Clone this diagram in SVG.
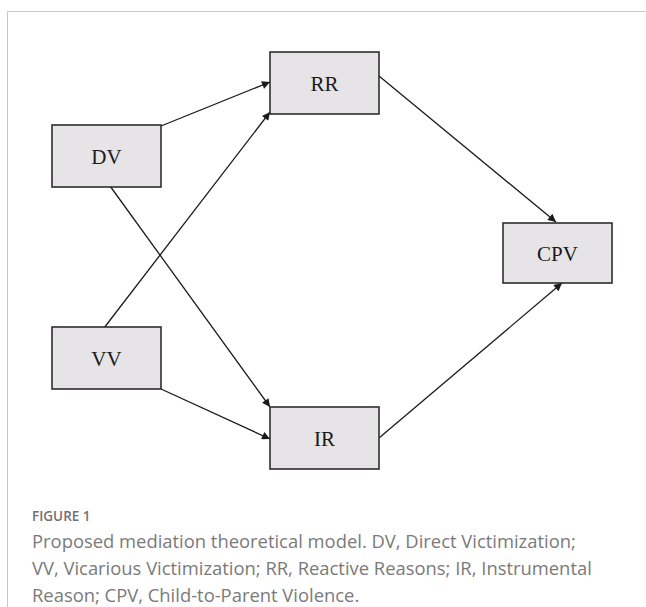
<svg xmlns="http://www.w3.org/2000/svg" width="646" height="607" viewBox="0 0 646 607">
<style>
.box{fill:#e6e4e6;stroke:#2e2e2e;stroke-width:1.6}
.lbl{font-family:"Liberation Serif",serif;font-size:21px;fill:#1a1a1a;text-anchor:middle}
.edge{stroke:#1a1a1a;stroke-width:1.3;fill:none;marker-end:url(#ah)}
.cap{font-family:"Open Sans",sans-serif;fill:#7a7a7a;font-weight:400;font-size:18.4px}
.fig{font-family:"Open Sans",sans-serif;fill:#707070;font-weight:600;font-size:13.5px}
</style>
<defs>
<marker id="ah" viewBox="0 0 10 10" refX="10" refY="5" markerWidth="10" markerHeight="8" markerUnits="userSpaceOnUse" orient="auto">
<path d="M0,0 L10,5 L0,10 z" fill="#1a1a1a"/>
</marker>
</defs>
<rect x="0" y="0" width="646" height="607" fill="#ffffff"/>
<path d="M7.5,607 V11.5 H646" fill="none" stroke="#c8c8c8" stroke-width="1"/>
<g id="connectors">
<line class="edge" x1="161" y1="126" x2="270" y2="82"/>
<line class="edge" x1="110" y1="186" x2="270" y2="407"/>
<line class="edge" x1="104" y1="328" x2="270" y2="112"/>
<line class="edge" x1="161" y1="389" x2="270" y2="439"/>
<line class="edge" x1="379" y1="76" x2="556" y2="222"/>
<line class="edge" x1="379" y1="438" x2="562" y2="283"/>
</g>
<g id="DV"><rect class="box" x="52" y="125" width="109" height="62"/><text class="lbl" x="106.5" y="164">DV</text></g>
<g id="RR"><rect class="box" x="270" y="52" width="109" height="62"/><text class="lbl" x="324.5" y="91">RR</text></g>
<g id="CPV"><rect class="box" x="503" y="223" width="109" height="60"/><text class="lbl" x="557.5" y="261">CPV</text></g>
<g id="VV"><rect class="box" x="52" y="327" width="109" height="62"/><text class="lbl" x="106.5" y="366">VV</text></g>
<g id="IR"><rect class="box" x="270" y="407" width="109" height="62"/><text class="lbl" x="324.5" y="446">IR</text></g>
<g id="caption">
<text class="fig" x="32" y="521">FIGURE 1</text>
<text class="cap" x="32" y="548">Proposed mediation theoretical model. DV, Direct Victimization;</text>
<text class="cap" x="32" y="575">VV, Vicarious Victimization; RR, Reactive Reasons; IR, Instrumental</text>
<text class="cap" x="32" y="602">Reason; CPV, Child-to-Parent Violence.</text>
</g>
</svg>
